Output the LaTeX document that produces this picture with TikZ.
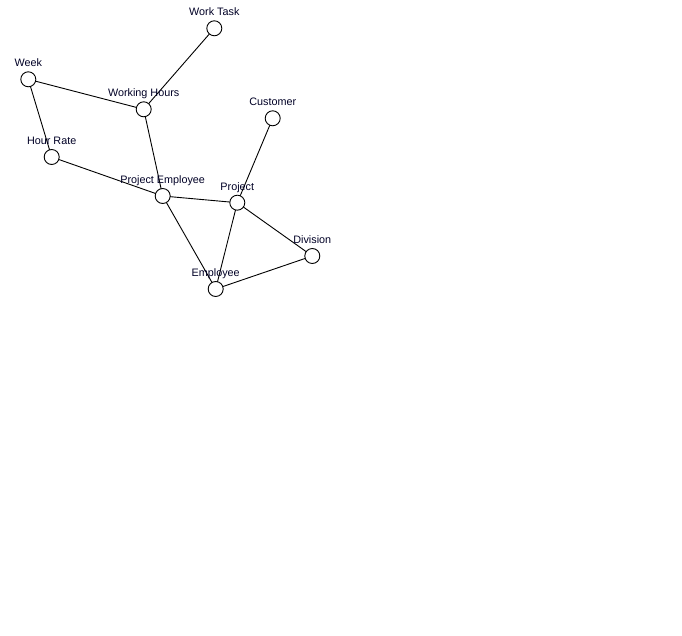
\documentclass[tikz,border=0pt]{standalone}
\usepackage{fontspec}
\setmainfont{Liberation Sans}
\usetikzlibrary{backgrounds}
\begin{document}
\begin{tikzpicture}[x=1pt,y=-1pt,
  vertex/.style={circle,draw=black,fill=white,line width=0.9pt,minimum size=15pt,inner sep=0pt},
  link/.style={draw=black,line width=0.9pt},
  caption/.style={anchor=base,inner sep=0pt,font=\fontsize{10.8}{12}\selectfont,text=black!85!blue}]
% vertices
\node[vertex] (worktask) at (214.3,28.3) {};
\node[vertex] (week) at (28.3,79.3) {};
\node[vertex] (hours) at (143.7,109.3) {};
\node[vertex] (customer) at (272.7,118.3) {};
\node[vertex] (rate) at (51.7,157) {};
\node[vertex] (projemp) at (162.7,196) {};
\node[vertex] (project) at (237.3,202.7) {};
\node[vertex] (division) at (312.3,256) {};
\node[vertex] (employee) at (215.7,289) {};
% edges, drawn beneath the vertices
\begin{scope}[on background layer]
\fill[white] (0,0) rectangle (682,636);
\foreach \a/\b in {worktask/hours,week/hours,week/rate,rate/projemp,hours/projemp,
                   projemp/project,projemp/employee,customer/project,project/employee,
                   project/division,division/employee}
  \draw[link] (\a.center) -- (\b.center);
\end{scope}
% labels
\node[caption] (lworktask) at ([yshift=12.5pt]worktask.center) {Work Task};
\node[caption] (lweek) at ([yshift=12.5pt]week.center) {Week};
\node[caption] (lhours) at ([yshift=12.5pt]hours.center) {Working Hours};
\node[caption] (lcustomer) at ([yshift=12.5pt]customer.center) {Customer};
\node[caption] (lrate) at ([yshift=12.5pt]rate.center) {Hour Rate};
\node[caption] (lprojemp) at ([yshift=12.5pt]projemp.center) {Project Employee};
\node[caption] (lproject) at ([yshift=12.5pt]project.center) {Project};
\node[caption] (ldivision) at ([yshift=12.5pt]division.center) {Division};
\node[caption] (lemployee) at ([yshift=12.5pt]employee.center) {Employee};
\useasboundingbox (0,0) rectangle (682,636);
\end{tikzpicture}
\end{document}
